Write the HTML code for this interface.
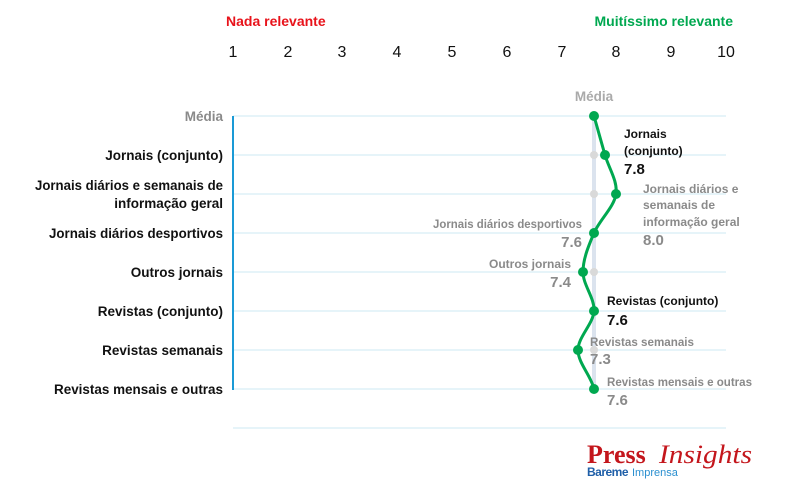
<!DOCTYPE html>
<html><head><meta charset="utf-8"><style>
html,body{margin:0;padding:0;background:#fff;}
svg{display:block;font-family:"Liberation Sans",sans-serif;}
</style></head><body>
<svg width="794" height="489" viewBox="0 0 794 489" xmlns="http://www.w3.org/2000/svg">
<text x="226" y="26" font-size="14" font-weight="bold" fill="#e8131b">Nada relevante</text>
<text x="733" y="26" font-size="14" font-weight="bold" fill="#00a850" text-anchor="end">Muitíssimo relevante</text>
<g font-size="16" fill="#111" text-anchor="middle">
<text x="233" y="57">1</text><text x="288" y="57">2</text><text x="342" y="57">3</text><text x="397" y="57">4</text><text x="452" y="57">5</text><text x="507" y="57">6</text><text x="562" y="57">7</text><text x="616" y="57">8</text><text x="671" y="57">9</text><text x="726" y="57">10</text>
</g>
<g stroke="#cdeaf3" stroke-width="1">
<line x1="233" y1="116" x2="726" y2="116"/><line x1="233" y1="155" x2="726" y2="155"/><line x1="233" y1="194" x2="726" y2="194"/><line x1="233" y1="233" x2="726" y2="233"/><line x1="233" y1="272" x2="726" y2="272"/><line x1="233" y1="311" x2="726" y2="311"/><line x1="233" y1="350" x2="726" y2="350"/><line x1="233" y1="389" x2="726" y2="389"/><line x1="233" y1="428" x2="726" y2="428"/>
</g>
<line x1="233" y1="116" x2="233" y2="390" stroke="#1a9ad6" stroke-width="2"/>
<line x1="594" y1="116" x2="594" y2="389" stroke="#dbe3ee" stroke-width="4"/>
<g fill="#d9d9d9"><circle cx="594" cy="155" r="4"/><circle cx="594" cy="194" r="4"/><circle cx="594" cy="272" r="4"/><circle cx="594" cy="350" r="4"/></g>
<g font-size="13.5" font-weight="bold" text-anchor="end" fill="#111">
<text x="223" y="121" fill="#8a8a8a">Média</text>
<text x="223" y="160">Jornais (conjunto)</text>
<text x="223" y="190" textLength="188" lengthAdjust="spacingAndGlyphs">Jornais diários e semanais de</text>
<text x="223" y="208">informação geral</text>
<text x="223" y="238" textLength="174" lengthAdjust="spacingAndGlyphs">Jornais diários desportivos</text>
<text x="223" y="277">Outros jornais</text>
<text x="223" y="316">Revistas (conjunto)</text>
<text x="223" y="355">Revistas semanais</text>
<text x="223" y="394" textLength="169" lengthAdjust="spacingAndGlyphs">Revistas mensais e outras</text>
</g>
<text x="594" y="101" font-size="13.5" font-weight="bold" fill="#aaa" text-anchor="middle">Média</text>
<path d="M594,116 C595.8,122.5 601.3,142 605,155 C608.7,168 617.8,181 616,194 C614.2,207 599.5,220 594,233 C588.5,246 583,259 583,272 C583,285 594.8,298 594,311 C593.2,324 578,337 578,350 C578,363 591.3,376 594,389" fill="none" stroke="#00a850" stroke-width="3"/>
<g fill="#00a850"><circle cx="594" cy="116" r="5"/><circle cx="605" cy="155" r="5"/><circle cx="616" cy="194" r="5"/><circle cx="594" cy="233" r="5"/><circle cx="583" cy="272" r="5"/><circle cx="594" cy="311" r="5"/><circle cx="578" cy="350" r="5"/><circle cx="594" cy="389" r="5"/></g>
<g font-size="12" font-weight="bold">
<text x="624" y="138" fill="#111">Jornais</text>
<text x="624" y="155" fill="#111">(conjunto)</text>
<text x="624" y="174" fill="#111" font-size="15">7.8</text>
<g fill="#8a8a8a">
<text x="643" y="193">Jornais diários e</text>
<text x="643" y="209">semanais de</text>
<text x="643" y="226">informação geral</text>
<text x="643" y="245" font-size="15">8.0</text>
<text x="582" y="228" text-anchor="end" textLength="149" lengthAdjust="spacingAndGlyphs">Jornais diários desportivos</text>
<text x="582" y="247" text-anchor="end" font-size="15">7.6</text>
<text x="571" y="268" text-anchor="end">Outros jornais</text>
<text x="571" y="287" text-anchor="end" font-size="15">7.4</text>
<text x="590" y="346" textLength="104" lengthAdjust="spacingAndGlyphs">Revistas semanais</text>
<text x="590" y="364" font-size="15">7.3</text>
<text x="607" y="386" textLength="145" lengthAdjust="spacingAndGlyphs">Revistas mensais e outras</text>
<text x="607" y="405" font-size="15">7.6</text>
</g>
<text x="607" y="305" fill="#111">Revistas (conjunto)</text>
<text x="607" y="325" fill="#111" font-size="15">7.6</text>
</g>
<text x="587" y="463" font-family="Liberation Serif,serif" font-size="26" font-weight="bold" fill="#c4161c">Press</text>
<text x="659" y="463" font-family="Liberation Serif,serif" font-size="26" font-style="italic" fill="#c4161c" textLength="93" lengthAdjust="spacingAndGlyphs">Insights</text>
<text x="587" y="476" font-size="12" font-weight="bold" fill="#1f5fa8" letter-spacing="-0.5">Bareme</text>
<text x="632" y="476" font-size="11" fill="#2a8fd0">Imprensa</text>
</svg>
</body></html>
